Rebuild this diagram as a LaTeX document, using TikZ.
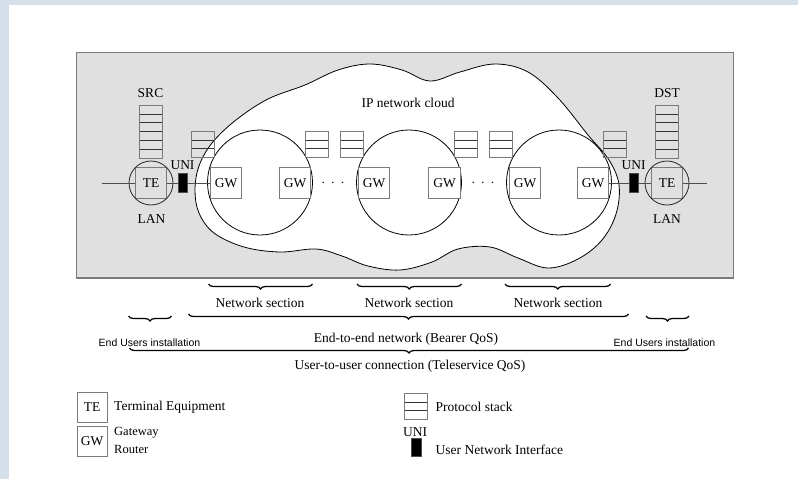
\documentclass[tikz,border=0pt]{standalone}
\usepackage{fontspec}
\setmainfont{Liberation Serif}
\newfontfamily\sansf{Liberation Sans}
\usetikzlibrary{decorations.pathreplacing}
\definecolor{frameblue}{HTML}{D5DFE9}
\definecolor{panelgray}{HTML}{E0E0E0}
\definecolor{edgegray}{HTML}{7A7A7A}
\begin{document}
\begin{tikzpicture}[x=1pt,y=-1pt,
  font=\fontsize{13.5}{16}\selectfont,
  txt/.style={inner sep=0pt},
  gwbox/.style={draw=edgegray, fill=white, line width=0.8pt, minimum size=31.5pt, inner sep=0pt},
  tebox/.style={draw=edgegray, line width=0.8pt, minimum size=31pt, inner sep=0pt},
  lancircle/.style={draw=black!85, circle, line width=0.8pt, minimum size=44pt, inner sep=0pt},
  seccircle/.style={draw=black, circle, line width=0.8pt, minimum size=105pt, inner sep=0pt},
  uniblk/.style={fill=black, draw=black!70, minimum width=9pt, minimum height=19pt, inner sep=0pt},
  conn/.style={draw=black!70, line width=1pt},
  stkframe/.style={draw=edgegray, line width=0.8pt},
  stkrow/.style={draw=black!80, line width=0.7pt},
  brc/.style={draw=black, line width=1.25pt, decorate, decoration={brace, mirror, amplitude=5pt}},
  pics/stk/.style={code={
     \foreach \k in {2,...,#1} \draw[stkrow] (0,{(\k-1)*8.85}) -- (23,{(\k-1)*8.85});
     \draw[stkframe] (0,0) rectangle (23,{#1*8.85});
  }}
]
\useasboundingbox (0,0) rectangle (798,479);
\fill[white] (0,0) rectangle (798,479);
\fill[frameblue] (0,0) rectangle (798,5);
\fill[frameblue] (0,0) rectangle (9,479);

% panel
\draw[edgegray, fill=panelgray, line width=1.2pt] (76.5,52.5) rectangle (733.5,278);

% cloud
\draw[black, fill=white, line width=0.8pt] plot[smooth cycle, tension=0.6] coordinates {
 (195,190) (199,166) (212,143) (236,120) (268,99) (305,85) (338,70) (370,64) (402,70) (430,81)
 (460,72) (495,64) (528,72) (558,98) (588,135) (609,160) (619,185) (616,214) (602,240)
 (578,259) (548,268) (518,258) (490,247) (458,249) (432,262) (400,270) (368,266) (342,256)
 (316,249) (280,252) (244,247) (214,233) (199,213)};
\node[txt] (cloudlbl) at (408,103) {IP network cloud};

% network sections
\node[seccircle] (sec1) at (260,182.5) {};
\node[seccircle] (sec2) at (409,182.5) {};
\node[seccircle] (sec3) at (559,182.5) {};

% stacks
\pic at (139,105) {stk=6};
\pic at (655.5,105) {stk=6};
\foreach \sx in {191,305.5,340.5,454.5,489.5,603.5} \pic at (\sx,131) {stk=3};
\node[txt] (src) at (150.5,93) {SRC};
\node[txt] (dst) at (667,93) {DST};

% gateways
\node[gwbox] (gw1) at (226,183) {GW};
\node[gwbox] (gw2) at (295,183) {GW};
\node[gwbox] (gw3) at (374,183) {GW};
\node[gwbox] (gw4) at (444.5,183) {GW};
\node[gwbox] (gw5) at (525,183) {GW};
\node[gwbox] (gw6) at (593,183) {GW};
\node[txt] (dots1) at (333,183) {$\cdot\,\cdot\,\cdot$};
\node[txt] (dots2) at (483,183) {$\cdot\,\cdot\,\cdot$};

% terminals
\node[tebox] (te1) at (151,183) {TE};
\node[lancircle] (lan1) at (151,183) {};
\node[tebox] (te2) at (667,183) {TE};
\node[lancircle] (lan2) at (667,183) {};
\node[txt] (lanlbl1) at (151.5,219.5) {LAN};
\node[txt] (lanlbl2) at (667,219.5) {LAN};

% UNI
\node[uniblk] (uni1) at (182.5,183) {};
\node[uniblk] (uni2) at (633.7,183) {};
\node[txt] (unilbl1) at (182.5,165.5) {UNI};
\node[txt] (unilbl2) at (633.5,165.5) {UNI};

% connectors
\coordinate (lend) at (102,183);
\coordinate (rend) at (707,183);
\draw[conn] (lend) -- (te1.west);
\draw[conn] (te1) -- (uni1);
\draw[conn] (uni1) -- (gw1);
\draw[conn] (gw6) -- (uni2);
\draw[conn] (uni2) -- (te2);
\draw[conn] (te2.east) -- (rend);

% braces
\draw[brc] (208.5,284) -- (312.5,284);
\draw[brc] (357,284) -- (461.5,284);
\draw[brc] (505,284) -- (610.5,284);
\node[txt] (ns1) at (260,302.5) {Network section};
\node[txt] (ns2) at (409,302.5) {Network section};
\node[txt] (ns3) at (558,302.5) {Network section};

\draw[brc] (128.5,316) -- (171.5,316);
\draw[brc] (188.5,314) -- (628.5,314);
\draw[brc] (646,316) -- (689,316);
\node[txt, font=\sansf\fontsize{10.5}{12}\selectfont] (eu1) at (149.5,343) {End Users installation};
\node[txt, font=\sansf\fontsize{10.5}{12}\selectfont] (eu2) at (664.5,343) {End Users installation};
\node[txt] (e2e) at (406,339) {End-to-end network (Bearer QoS)};

\draw[brc] (129.5,348) -- (688.5,348);
\node[txt] (u2u) at (410,366) {User-to-user connection (Teleservice QoS)};

% legend
\node[tebox, minimum size=30pt] (lgte) at (92,407) {TE};
\node[tebox, minimum size=30pt] (lggw) at (92,441) {GW};
\node[txt, anchor=west] (lgtetxt) at (114,407) {Terminal Equipment};
\node[txt, anchor=west, font=\fontsize{12.5}{14}\selectfont] (lggwtxt1) at (114,433) {Gateway};
\node[txt, anchor=west, font=\fontsize{12.5}{14}\selectfont] (lggwtxt2) at (114,449.5) {Router};
\pic at (404.5,393) {stk=3};
\node[txt, anchor=west] (lgstk) at (435.5,407) {Protocol stack};
\node[txt] (lgunilbl) at (415,432) {UNI};
\node[uniblk, minimum width=10pt, minimum height=18pt] (lguni) at (415.7,447) {};
\node[txt, anchor=west] (lgunitxt) at (435.5,449.5) {User Network Interface};
\end{tikzpicture}
\end{document}
